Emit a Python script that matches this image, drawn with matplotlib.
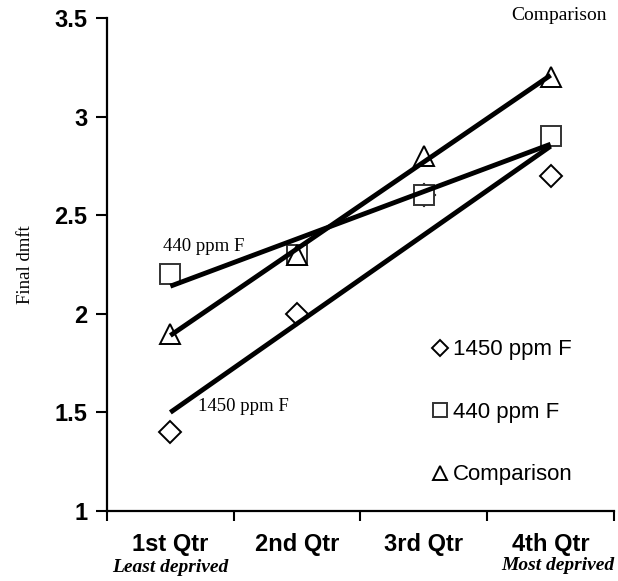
import matplotlib
matplotlib.use("Agg")
import matplotlib.pyplot as plt
from matplotlib.lines import Line2D
import numpy as np

quarters = ["1st Qtr", "2nd Qtr", "3rd Qtr", "4th Qtr"]
ppm1450 = [1.4, 2.0, 2.6, 2.7]
ppm440 = [2.2, 2.3, 2.6, 2.9]
comparison = [1.9, 2.3, 2.8, 3.2]

series = [
    ("1450 ppm F", ppm1450, "D", 11, "black"),
    ("440 ppm F", ppm440, "s", 14, "#333333"),
    ("Comparison", comparison, "^", 15, "black"),
]

plt.rcParams["font.family"] = "Liberation Sans"

fig = plt.figure(figsize=(6.18, 5.81), dpi=100)
ax = fig.add_axes([0.1731, 0.1205, 0.8204, 0.8485])

x = np.arange(len(quarters))
handles = []
for label, vals, marker, ms, ec in series:
    ax.plot(x, vals, linestyle="none", marker=marker, markersize=ms,
            markerfacecolor="white", markeredgecolor=ec, markeredgewidth=1.4,
            zorder=2)
    # linear trend line
    k, b = np.polyfit(x, vals, 1)
    ax.plot([x[0], x[-1]], [k * x[0] + b, k * x[-1] + b], color="black",
            linewidth=3.5, solid_capstyle="butt", zorder=3)
    handles.append(Line2D([], [], linestyle="none", marker=marker,
                          markersize=ms * 0.7, markerfacecolor="white",
                          markeredgecolor=ec, markeredgewidth=1.4,
                          label=label))

ax.set_xlim(-0.5, 3.5)
ax.set_ylim(1, 3.5)
ax.set_yticks([1, 1.5, 2, 2.5, 3, 3.5])
ax.set_yticklabels(["1", "1.5", "2", "2.5", "3", "3.5"])
ax.set_xticks(np.arange(-0.5, 3.6, 1.0))
ax.set_xticklabels([])
ax.set_xticks(x, minor=True)
ax.set_xticklabels(quarters, minor=True)
ax.tick_params(axis="x", which="minor", length=0, pad=16)
ax.tick_params(axis="x", which="major", direction="out", length=7, width=1.5)
ax.tick_params(axis="y", direction="out", length=8, width=1.5, pad=6)
for t in ax.get_yticklabels() + ax.get_xticklabels(minor=True):
    t.set_fontweight("bold")
    t.set_fontsize(17)

for s in ["top", "right"]:
    ax.spines[s].set_visible(False)
for s in ["left", "bottom"]:
    ax.spines[s].set_linewidth(1.6)

ax.set_ylabel("Final dmft", family="Liberation Serif", fontsize=13.5, labelpad=15)

ax.text(3.07, 3.515, "Comparison", family="Liberation Serif", fontsize=14,
        ha="center", va="center")
ax.text(-0.06, 2.34, "440 ppm F", family="Liberation Serif", fontsize=13.5,
        ha="left", va="center")
ax.text(0.22, 1.53, "1450 ppm F", family="Liberation Serif", fontsize=13.5,
        ha="left", va="center")

fig.text(170 / 618, 1 - 567 / 581, "Least deprived", family="Liberation Serif",
         fontsize=14, style="italic", fontweight="bold", ha="center", va="center")
fig.text(614 / 618, 1 - 565 / 581, "Most deprived", family="Liberation Serif",
         fontsize=14, style="italic", fontweight="bold", ha="right", va="center")

ax.legend(handles=handles, loc="center left", bbox_to_anchor=(0.618, 0.2),
          frameon=False, fontsize=16, labelspacing=1.87, handlelength=0.8,
          handletextpad=0.15, borderpad=0)

fig.savefig("out.png", dpi=100, facecolor="white")
